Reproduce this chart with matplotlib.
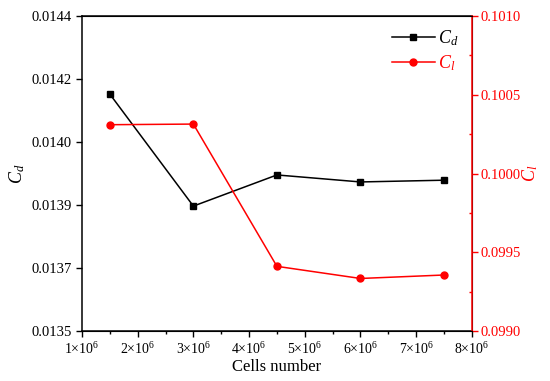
import matplotlib.pyplot as plt
from matplotlib.ticker import FuncFormatter, MultipleLocator
import numpy as np

plt.rcParams['font.family'] = 'Liberation Serif'
plt.rcParams['mathtext.fontset'] = 'custom'
plt.rcParams['mathtext.rm'] = 'Liberation Serif'
plt.rcParams['mathtext.it'] = 'Liberation Serif:italic'

# data
cells = [1.5e6, 3.0e6, 4.5e6, 6.0e6, 7.5e6]
cd = [0.014177, 0.013857, 0.013946, 0.013926, 0.013931]
cl = [0.10031, 0.100314, 0.099411, 0.099334, 0.099356]

cd_ticks = np.linspace(0.0135, 0.0144, 6)
cl_ticks = [0.0990, 0.0995, 0.1000, 0.1005, 0.1010]

fig = plt.figure(figsize=(5.5, 3.81), dpi=100)
ax = fig.add_axes([0.149, 0.131, 0.709, 0.827])
ax2 = ax.twinx()

l1, = ax.plot(cells, cd, color='black', marker='s', markersize=4.5, lw=1.1, label='$C_d$')
l2, = ax2.plot(cells, cl, color='red', marker='o', markersize=5, lw=1.1, label='$C_l$')

ax.set_xlim(1e6, 8e6)
ax.set_ylim(0.0135, 0.0144)
ax2.set_ylim(0.0990, 0.1010)

ax.xaxis.set_major_locator(MultipleLocator(1e6))
ax.xaxis.set_minor_locator(MultipleLocator(0.5e6))
ax.xaxis.set_major_formatter(FuncFormatter(lambda v, p: r'%d$\times$10$^{6}$' % round(v / 1e6)))

ax.set_yticks(cd_ticks)
ax.yaxis.set_major_formatter(FuncFormatter(lambda v, p: '%.4f' % v))

ax2.set_yticks(cl_ticks)
ax2.yaxis.set_minor_locator(MultipleLocator(0.00025))
ax2.yaxis.set_major_formatter(FuncFormatter(lambda v, p: '%.4f' % v))

ax.tick_params(axis='y', which='major', labelsize=10.5, direction='out', length=4.5, width=1, pad=3)
ax.tick_params(axis='x', which='major', labelsize=10, direction='out', length=4.5, width=1, pad=3)
ax.tick_params(axis='x', which='minor', direction='out', length=2.5, width=1)
ax.tick_params(axis='y', which='minor', left=False)
ax2.tick_params(axis='y', which='major', labelsize=10.5, colors='red', direction='out', length=4.5, width=1, pad=2)
ax2.tick_params(axis='y', which='minor', colors='red', direction='in', length=2.5, width=1)

for s in ['left', 'bottom', 'top']:
    ax.spines[s].set_linewidth(1.1)
ax2.spines['right'].set_color('red')
ax2.spines['right'].set_linewidth(1.1)
ax2.spines['left'].set_visible(False)

ax.set_xlabel('Cells number', fontsize=12, labelpad=1)
ax.set_ylabel('$C_d$', fontsize=13, labelpad=3)
ax2.set_ylabel('$C_l$', fontsize=13, color='red', labelpad=-1)

leg = ax2.legend(handles=[l1, l2], loc='upper right', bbox_to_anchor=(0.985, 0.985),
                 frameon=False, fontsize=13, handlelength=2.4, borderaxespad=0,
                 labelspacing=0.3, handletextpad=0.2)
for t, c in zip(leg.get_texts(), ['black', 'red']):
    t.set_color(c)

fig.savefig('out.png', dpi=100)
